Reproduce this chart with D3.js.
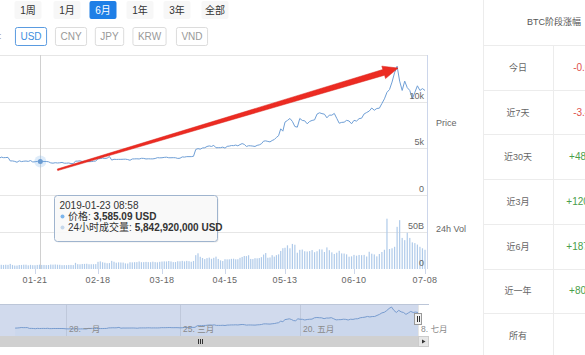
<!DOCTYPE html>
<html><head><meta charset="utf-8">
<script src="https://cdn.jsdelivr.net/npm/d3@7"></script>
<style>
html,body{margin:0;padding:0;background:#fff;overflow:hidden}
svg{display:block;font-family:"Liberation Sans",Arial,"Noto Sans CJK SC",sans-serif}
</style></head><body>
<svg id="c" width="585" height="355"></svg>
<script>
// ---------------- DATA ----------------
const firstDay = "2019-01-03", lastDay = "2019-07-08";
const priceJan = [3790,3820,3910,4060,4000,4010,4030,3650,3650,3600,3510,3660,3580,3620,3640,3600,3690,3540,3560,3600,3585,3600,3590,3590,3560,3440,3410,3460,3430];
const priceFeb = [3450,3490,3410,3410,3430,3370,3360,3630,3630,3660,3590,3610,3590,3570,3580,3610,3640,3880,3900,3950,3910,3950,4120,3740,3830,3810,3820,3820];
const priceMar = [3830,3840,3800,3720,3860,3870,3880,3860,3930,3920,3860,3880,3870,3870,3910,4000,3980,3990,4030,4050,3990,3990,4000,3990,3920,3940,4080,4060,4110,4110,4110];
const priceApr = [4150,4880,4970,4910,5040,5060,5200,5260,5200,5320,5060,5070,5070,5130,5020,5210,5240,5300,5290,5350,5270,5400,5510,5420,5200,5280,5270,5240,5200,5320];
const priceMay = [5370,5490,5770,5800,5740,5690,5840,5940,6170,6350,7090,6840,7810,7990,8200,7880,7340,7270,8200,7990,7950,7630,7880,7990,8050,8670,8810,8720,8660,8270,8560];
const priceJun = [8550,8740,8210,7690,7780,7800,8000,7930,7630,8000,7920,8180,8230,8690,8840,8990,9320,9080,9270,9300,9800,10300,11000,11300,12100,13100,13800,12200,11200,12200];
const priceJul = [11500,11200,10300,11000,11700,11200,11400,11200];

// 24h volume, billions USD
const volJan = [5.9,5.1,5.0,5.7,5.5,5.8,5.6,6.9,5.5,4.7,4.7,5.4,5.5,5.8,5.8,5.0,5.6,5.2,5.1,5.5,5.84,5.5,5.5,5.3,5.4,6.0,5.9,6.1,5.8];
const volFeb = [5.7,5.2,5.3,5.2,5.5,5.5,5.3,8.3,6.5,6.3,6.8,6.9,7.1,6.4,6.4,6.5,6.6,9.7,10.3,9.1,8.5,7.8,8.0,11.0,9.8,8.5,9.0,8.8];
const volMar = [8.7,7.6,7.4,9.1,9.0,9.2,9.3,10.2,9.2,9.3,9.6,9.3,9.2,9.9,9.3,9.0,9.7,10.1,10.3,10.2,10.8,10.2,9.3,9.4,10.5,10.4,11.0,10.3,11.0,10.6,9.8];
const volApr = [10.9,18.7,21.2,16.5,14.9,13.4,14.7,15.4,13.8,15.1,16.7,13.6,11.7,10.8,13.2,13.0,13.1,13.7,13.9,13.1,13.2,15.1,16.3,17.6,17.4,18.6,13.6,13.4,14.6,14.4];
const volMay = [14.8,16.0,19.5,21.6,15.2,15.6,18.7,16.7,18.7,19.8,24.4,28.1,28.7,32.0,28.0,33.9,32.8,22.0,25.9,26.3,24.0,23.6,24.2,25.6,22.7,24.0,26.6,26.4,23.0,29.2,25.4];
const volJun = [22.5,20.3,22.0,24.6,21.1,20.9,19.8,16.6,17.1,19.1,18.0,19.0,18.7,19.1,16.9,23.3,20.7,19.7,17.1,20.3,23,26,68,27,28,30,57,66,42,39];
const volJul = [49,42,36,35,33,30,28,26];

const xTickDates  = ["2019-01-21","2019-02-18","2019-03-18","2019-04-15","2019-05-13","2019-06-10","2019-07-08"];
const xTickLabels = ["01-21","02-18","03-18","04-15","05-13","06-10","07-08"];
const priceTicks = [0,5000,10000], priceTickLabels = ["0","5k","10k"];
const volTicks = [0,50e9], volTickLabels = ["0","50B"];
const navDates  = ["2019-01-28","2019-03-25","2019-05-20","2019-07-08"];
const navLabels = ["28. 一月","25. 三月","20. 五月","8. 七月"];
const rangeButtons = ["1周","1月","6月","1年","3年","全部"], selectedRange = "6月";
const currencies = ["USD","CNY","JPY","KRW","VND"], selectedCurrency = "USD";
const tableTitle = "BTC阶段涨幅";
const periodLabels  = ["今日","近7天","近30天","近3月","近6月","近一年","所有"];
const periodChanges = ["-0.61%","-3.43%","+48.93%","+120.46%","+187.12%","+80.35%","--"];
const tipTime = "2019-01-23 08:58", tipDate = "2019-01-23T08:58", tipPrice = 3585.09, tipVolume = 5842920000;
const tipPriceLabel = "价格: ", tipVolLabel = "24小时成交量: ";
const arrowFrom = {date:"2019-01-31", price:2700}, arrowTo = {date:"2019-06-27T09:00", price:13600};

// ---------------- BUILD ----------------
const parse = s => new Date(s.length > 10 ? s : s + "T00:00");
const days = d3.timeDay.range(parse(firstDay), d3.timeDay.offset(parse(lastDay), 1));
const prices = [].concat(priceJan,priceFeb,priceMar,priceApr,priceMay,priceJun,priceJul);
const vols = [].concat(volJan,volFeb,volMar,volApr,volMay,volJun,volJul).map(v => v*1e9);
const data = days.map((d,i) => ({date:d, price:prices[i], vol:vols[i]}));

const svg = d3.select("#c");
const plotRight = 427;
const x = d3.scaleTime().domain(xTickDates.map(parse)).range([35,98,162,225,285,354,425]);
const yP = d3.scaleLinear().domain([0,15000]).range([195,55]);
const yV = d3.scaleLinear().domain([0,50e9]).range([269,232]);
const grid = "#e6e6e6", axisCol = "#ccd6eb", labelCol = "#666";

// gridlines
svg.append("g").selectAll("line").data([0,5000,10000,15000]).join("line")
  .attr("x1",-10).attr("x2",plotRight).attr("y1",d=>Math.round(yP(d))+0.5).attr("y2",d=>Math.round(yP(d))+0.5)
  .attr("stroke",grid);
svg.append("line").attr("x1",-10).attr("x2",plotRight).attr("y1",Math.round(yV(50e9))+0.5).attr("y2",Math.round(yV(50e9))+0.5).attr("stroke",grid);

// right axis line
svg.append("line").attr("x1",plotRight+0.5).attr("x2",plotRight+0.5).attr("y1",yP(15000)).attr("y2",yV(0)).attr("stroke",axisCol);

// crosshair
const tipD = parse(tipDate);
svg.append("line").attr("x1",Math.round(x(tipD))+0.5).attr("x2",Math.round(x(tipD))+0.5)
  .attr("y1",yP(15000)).attr("y2",yV(0)).attr("stroke","#d0d0d0");

// volume bars
svg.append("g").selectAll("rect").data(data).join("rect")
  .attr("x",d=>x(d.date)-0.6).attr("width",1.2)
  .attr("y",d=>yV(d.vol)).attr("height",d=>yV(0)-yV(d.vol))
  .attr("fill","#b0cbea");

// price line
svg.append("path").datum(data)
  .attr("d",d3.line().x(d=>x(d.date)).y(d=>yP(d.price)))
  .attr("fill","none").attr("stroke","#6f9fd6").attr("stroke-width",1);

// axis labels
svg.append("g").selectAll("text").data(priceTicks).join("text")
  .attr("x",424).attr("y",d=>yP(d)-3).attr("text-anchor","end")
  .attr("font-size",9).attr("fill",labelCol).text((d,i)=>priceTickLabels[i]);
svg.append("g").selectAll("text").data(volTicks).join("text")
  .attr("x",424).attr("y",d=>yV(d)-3).attr("text-anchor","end")
  .attr("font-size",9).attr("fill",labelCol).text((d,i)=>volTickLabels[i]);
svg.append("text").attr("x",436).attr("y",126).attr("font-size",9).attr("fill",labelCol).text("Price");
svg.append("text").attr("x",436).attr("y",232).attr("font-size",9).attr("fill",labelCol).text("24h Vol");

// x ticks
const xt = svg.append("g");
xt.selectAll("line").data(xTickDates).join("line")
  .attr("x1",d=>Math.round(x(parse(d)))+0.5).attr("x2",d=>Math.round(x(parse(d)))+0.5)
  .attr("y1",yV(0)).attr("y2",yV(0)+5).attr("stroke",axisCol);
xt.selectAll("text").data(xTickDates).join("text")
  .attr("x",d=>x(parse(d))).attr("y",283).attr("text-anchor","middle")
  .attr("font-size",9).attr("fill",labelCol).attr("letter-spacing",0.4).text((d,i)=>xTickLabels[i]);

// hover marker
const mx = x(tipD), my = yP(tipPrice);
svg.append("circle").attr("cx",mx).attr("cy",my).attr("r",6).attr("fill","#7cb5ec").attr("opacity",0.25);
svg.append("circle").attr("cx",mx).attr("cy",my).attr("r",2.5).attr("fill","#6a9bd1");

// red arrow (annotation in data space)
(function(){
  const x1=x(parse(arrowFrom.date)), y1=yP(arrowFrom.price), x2=x(parse(arrowTo.date)), y2=yP(arrowTo.price);
  const dx=x2-x1, dy=y2-y1, L=Math.hypot(dx,dy), ux=dx/L, uy=dy/L, px=-uy, py=ux;
  const hl=15, hw=6.5, w0=0.8, w1=3.0;
  const bx=x2-ux*hl, by=y2-uy*hl;
  const pts=[[x1+px*w0,y1+py*w0],[bx+px*w1,by+py*w1],[bx+px*hw,by+py*hw],[x2,y2],[bx-px*hw,by-py*hw],[bx-px*w1,by-py*w1],[x1-px*w0,y1-py*w0]];
  svg.append("path").attr("d","M"+pts.map(p=>p.join(",")).join("L")+"Z").attr("fill","#ec2b22").attr("stroke","#d81e16").attr("stroke-width",0.5);
})();

// tooltip
const tg = svg.append("g").attr("transform","translate(54.5,195.5)");
tg.append("rect").attr("x",1).attr("y",1).attr("width",163).attr("height",46).attr("rx",3).attr("fill","#000").attr("opacity",0.08);
tg.append("rect").attr("width",163).attr("height",46).attr("rx",3).attr("fill","rgba(250,250,250,0.92)").attr("stroke","#9fb4ce");
tg.append("text").attr("x",5).attr("y",13.5).attr("font-size",10).attr("fill","#333").text(tipTime);
tg.append("circle").attr("cx",8).attr("cy",21).attr("r",2).attr("fill","#7cb5ec");
const t1 = tg.append("text").attr("x",13.5).attr("y",24.5).attr("font-size",10).attr("fill","#333");
t1.append("tspan").text(tipPriceLabel);
t1.append("tspan").attr("font-weight","bold").text(d3.format(",.2f")(tipPrice)+" USD");
tg.append("circle").attr("cx",8).attr("cy",32).attr("r",2).attr("fill","#c6d7ea");
const t2 = tg.append("text").attr("x",13.5).attr("y",35.5).attr("font-size",10).attr("fill","#333");
t2.append("tspan").text(tipVolLabel);
t2.append("tspan").attr("font-weight","bold").text(d3.format(",")(tipVolume)+" USD");

// ---------------- NAVIGATOR ----------------
const nx = d3.scaleTime().domain(navDates.map(parse)).range([66,180,300,418]);
const navTop = 304, navBot = 336;
const ny = d3.scaleLinear().domain(d3.extent(prices)).range([329,307]);
const nav = svg.append("g");
nav.selectAll("line.g").data(navDates).join("line")
  .attr("x1",d=>Math.round(nx(parse(d)))+0.5).attr("x2",d=>Math.round(nx(parse(d)))+0.5)
  .attr("y1",navTop).attr("y2",navBot).attr("stroke","#e6e6e6");
nav.append("path").datum(data)
  .attr("d",d3.area().x(d=>nx(d.date)).y0(navBot).y1(d=>ny(d.price)))
  .attr("fill","rgba(124,181,236,0.06)");
nav.append("path").datum(data)
  .attr("d",d3.line().x(d=>nx(d.date)).y(d=>ny(d.price)))
  .attr("fill","none").attr("stroke","#7fa6d4").attr("stroke-width",1);
nav.append("rect").attr("x",-20).attr("y",navTop).attr("width",nx(parse(lastDay))+20).attr("height",navBot-navTop)
  .attr("fill","rgba(102,133,194,0.3)");
nav.selectAll("text").data(navDates).join("text")
  .attr("x",d=>nx(parse(d))+3).attr("y",332).attr("font-size",8.5).attr("fill","#8a8a8a").text((d,i)=>navLabels[i]);
nav.append("line").attr("x1",-20).attr("x2",429).attr("y1",navTop+0.5).attr("y2",navTop+0.5).attr("stroke","#bcc6d8");
// handle
const hx = Math.round(nx(parse(lastDay)));
nav.append("rect").attr("x",hx-3.5).attr("y",313.5).attr("width",7).attr("height",11).attr("fill","#f2f2f2").attr("stroke","#999");
nav.selectAll("line.h").data([-1,1]).join("line")
  .attr("x1",d=>hx+d+0.5).attr("x2",d=>hx+d+0.5).attr("y1",316).attr("y2",322).attr("stroke","#333");
// scrollbar
nav.append("rect").attr("x",-20).attr("y",navBot).attr("width",449).attr("height",11).attr("fill","#f2f2f2");
nav.append("rect").attr("x",-14).attr("y",navBot).attr("width",hx+14).attr("height",11).attr("fill","#d0d0d0");
nav.selectAll("line.gr").data([-2,0,2]).join("line")
  .attr("x1",d=>200+d+0.5).attr("x2",d=>200+d+0.5).attr("y1",navBot+3).attr("y2",navBot+8).attr("stroke","#333");
nav.append("rect").attr("x",hx+0.5).attr("y",navBot+0.5).attr("width",10).attr("height",10).attr("fill","#e6e6e6").attr("stroke","#cccccc");
nav.append("path").attr("d",`M${hx+4},${navBot+3.5}L${hx+7.5},${navBot+5.5}L${hx+4},${navBot+7.5}Z`).attr("fill","#333");

// ---------------- TOP BUTTONS ----------------
const rbX = [28,67,103,140,177,215];
const rb = svg.append("g").selectAll("g").data(rangeButtons).join("g");
rb.append("rect").attr("x",(d,i)=>rbX[i]-13.5).attr("y",1).attr("width",27).attr("height",18).attr("rx",2)
  .attr("fill",d=>d===selectedRange?"#1f7fe6":"#f7f7f7");
rb.append("text").attr("x",(d,i)=>rbX[i]).attr("y",14).attr("text-anchor","middle").attr("font-size",10)
  .attr("fill",d=>d===selectedRange?"#fff":"#333").text(d=>d);

const cbX = [31,71,109.5,149.5,192];
svg.append("text").attr("x",-1).attr("y",39).attr("font-size",9).attr("fill","#999").text(":");
const cb = svg.append("g").selectAll("g").data(currencies).join("g");
cb.append("text").attr("x",(d,i)=>cbX[i]).attr("y",40).attr("text-anchor","middle").attr("font-size",10)
  .attr("fill",d=>d===selectedCurrency?"#3d8ee0":"#999").text(d=>d);
cb.each(function(d,i){
  const g=d3.select(this), w=g.select("text").node().getComputedTextLength()+10;
  g.insert("rect","text").attr("x",cbX[i]-w/2).attr("y",27.5).attr("width",w).attr("height",18).attr("rx",2)
   .attr("fill","#fff").attr("stroke",d===selectedCurrency?"#5a9be0":"#dcdcdc");
});

// ---------------- RIGHT TABLE ----------------
const tL = 483, tMid = 553, rowTop = 45, rowH = 44.7;
const tb = svg.append("g");
tb.append("line").attr("x1",tL+0.5).attr("x2",tL+0.5).attr("y1",0).attr("y2",355).attr("stroke","#ececec");
tb.append("line").attr("x1",tMid+0.5).attr("x2",tMid+0.5).attr("y1",rowTop).attr("y2",355).attr("stroke","#ececec");
tb.selectAll("line.r").data(d3.range(periodLabels.length)).join("line")
  .attr("x1",tL).attr("x2",585).attr("y1",i=>Math.round(rowTop+i*rowH)+0.5).attr("y2",i=>Math.round(rowTop+i*rowH)+0.5).attr("stroke","#ececec");
tb.append("text").attr("x",554).attr("y",25).attr("text-anchor","middle").attr("font-size",9).attr("fill","#555").text(tableTitle);
tb.selectAll("text.l").data(periodLabels).join("text")
  .attr("x",(tL+tMid)/2).attr("y",(d,i)=>rowTop+i*rowH+rowH/2+3.5).attr("text-anchor","middle")
  .attr("font-size",9).attr("fill","#666").text(d=>d);
tb.selectAll("text.v").data(periodChanges).join("text")
  .attr("x",589).attr("y",(d,i)=>rowTop+i*rowH+rowH/2+3.5).attr("text-anchor","middle")
  .attr("font-size",10).attr("fill",d=>d[0]==="-"&&d!=="--"?"#e0524e":(d[0]==="+"?"#4a9e4a":"#666")).text(d=>d);
</script>
</body></html>
